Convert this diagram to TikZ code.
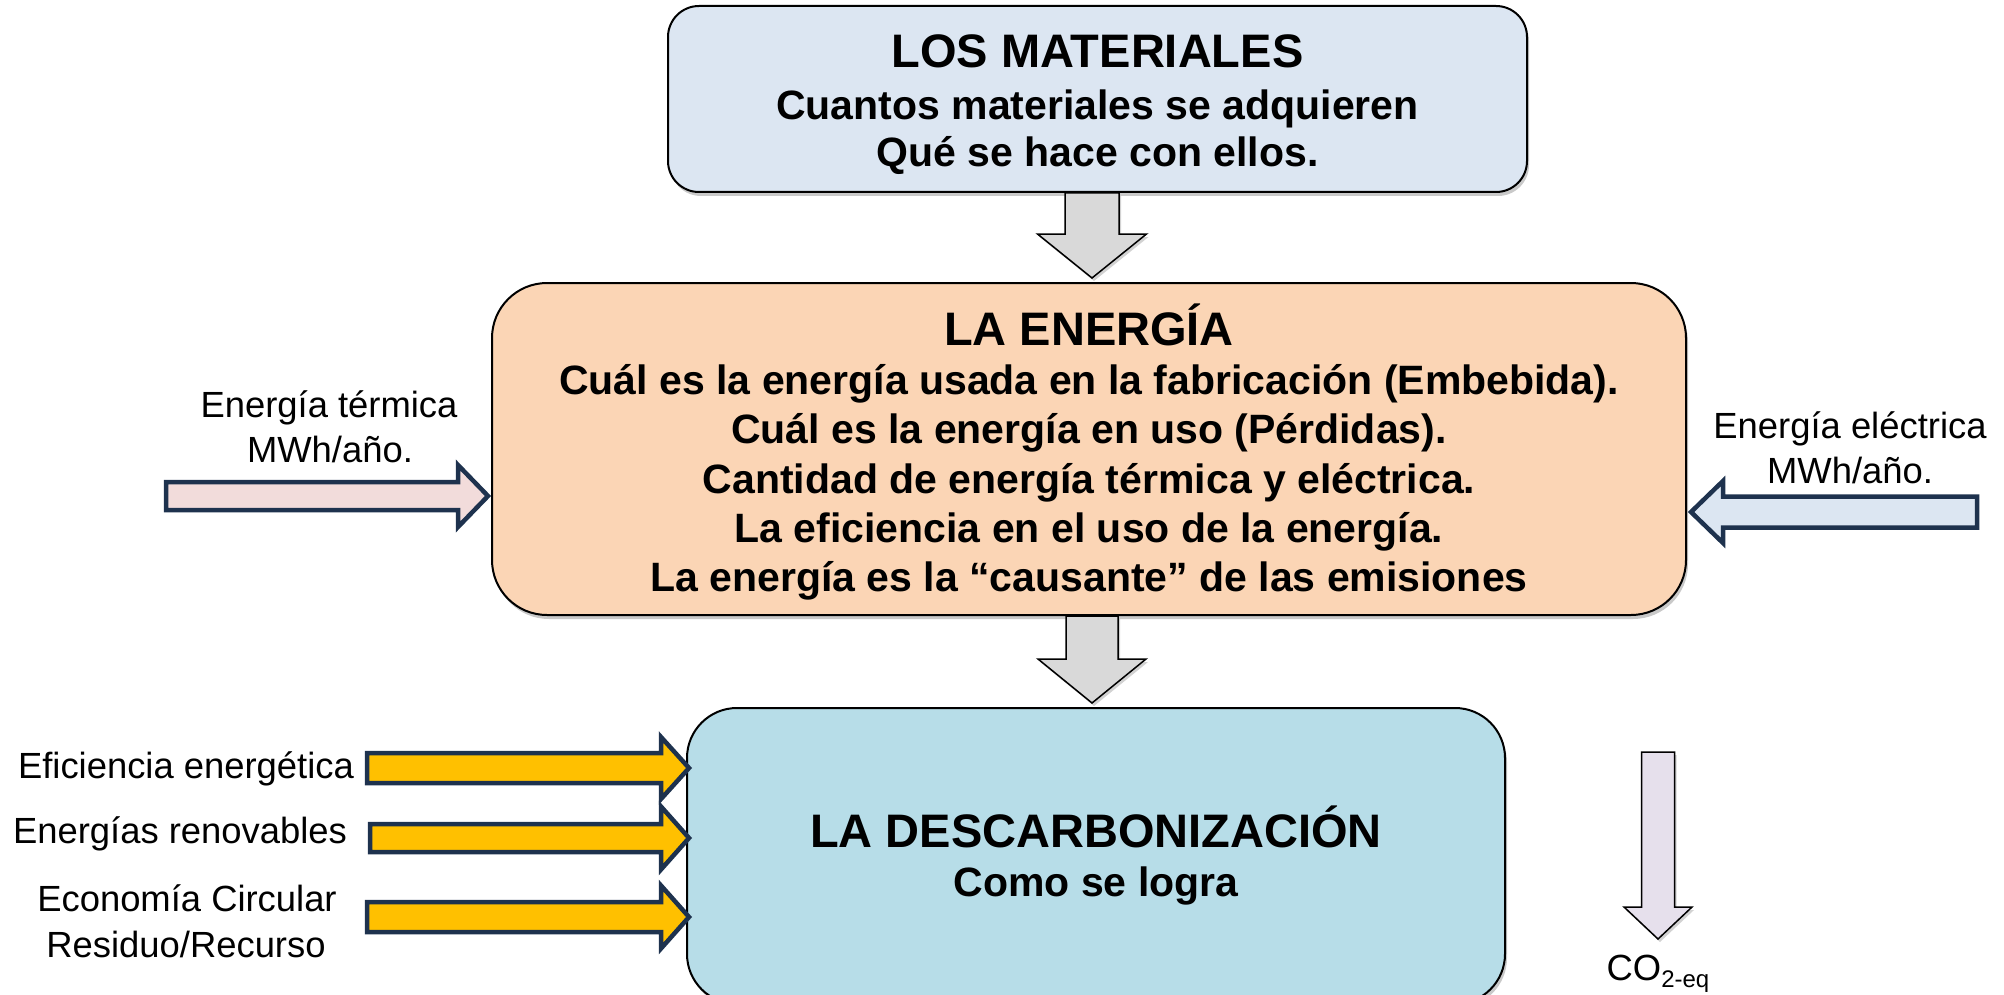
\documentclass[tikz,border=0pt]{standalone}
\usepackage{fontspec}
\setmainfont{Liberation Sans}
\usetikzlibrary{calc,shadows}
\definecolor{topfill}{HTML}{DCE6F2}
\definecolor{midfill}{HTML}{FBD5B5}
\definecolor{botfill}{HTML}{B7DDE8}
\definecolor{grayarrow}{HTML}{D9D9D9}
\definecolor{pinkfill}{HTML}{F2DCDB}
\definecolor{bluefill}{HTML}{DCE6F2}
\definecolor{yellowfill}{HTML}{FFC000}
\definecolor{lavfill}{HTML}{E6E0EC}
\definecolor{navy}{RGB}{30,50,78}
\newcommand\varrowshape[6]{% style, start, tip, half shaft, half head, head length
  \draw[#1] ($(#2)+({-(#4)},0)$) -- ($(#3)+({-(#4)},{-(#6)})$) -- ($(#3)+({-(#5)},{-(#6)})$) -- (#3)
    -- ($(#3)+({#5},{-(#6)})$) -- ($(#3)+({#4},{-(#6)})$) -- ($(#2)+({#4},0)$) -- cycle;}
\newcommand\harrowshape[6]{% style, start, tip, half shaft, half head, head length (signed)
  \draw[#1] ($(#2)+(0,{-(#4)})$) -- ($(#3)+({-(#6)},{-(#4)})$) -- ($(#3)+({-(#6)},{-(#5)})$) -- (#3)
    -- ($(#3)+({-(#6)},{#5})$) -- ($(#3)+({-(#6)},{#4})$) -- ($(#2)+(0,{#4})$) -- cycle;}
\tikzset{
  box/.style={draw=black, line width=2pt, rounded corners=#1, inner sep=0pt,
    drop shadow={shadow xshift=2pt, shadow yshift=-4pt, opacity=0.3, fill=black!70}},
  boxtitle/.style={anchor=base, inner sep=0pt, font=\fontsize{47}{49}\selectfont\bfseries},
  boxline/.style={anchor=base, inner sep=0pt, font=\fontsize{41}{49}\selectfont\bfseries},
  sidelabel/.style={anchor=base, inner sep=0pt, font=\fontsize{36.4}{44}\selectfont},
  grayblock/.style={draw=black, line width=1.5pt, fill=grayarrow,
    drop shadow={shadow xshift=2pt, shadow yshift=-3pt, opacity=0.25, fill=black!70}},
  navyblock/.style={draw=navy, line width=4.5pt, fill=#1},
  lavblock/.style={draw=black, line width=1.5pt, fill=lavfill,
    drop shadow={shadow xshift=2pt, shadow yshift=-3pt, opacity=0.25, fill=black!70}},
}
\begin{document}
\begin{tikzpicture}[x=1pt,y=-1pt]
\useasboundingbox (0,0) rectangle (2004,995);
\clip (0,0) rectangle (2004,995);
% boxes
\node[box=31, fill=topfill, minimum width=859pt, minimum height=186pt] (top) at (1097.5,99) {};
\node[box=55, fill=midfill, minimum width=1194pt, minimum height=332pt] (mid) at (1089,449) {};
\node[box=50, fill=botfill, minimum width=818pt, minimum height=296pt] (bot) at (1096,856) {};
% box texts
\node[boxtitle] (topt1) at (1097.5,68) {LOS MATERIALES};
\node[boxline] (topt2) at (1097.5,120) {Cuantos materiales se adquieren};
\node[boxline] (topt3) at (1097.5,167) {Qué se hace con ellos.};
\node[boxtitle] (midt1) at (1089,345) {LA ENERGÍA};
\node[boxline] (midt2) at (1089,394) {Cuál es la energía usada en la fabricación (Embebida).};
\node[boxline] (midt3) at (1089,443) {Cuál es la energía en uso (Pérdidas).};
\node[boxline] (midt4) at (1089,493) {Cantidad de energía térmica y eléctrica.};
\node[boxline] (midt5) at (1089,542) {La eficiencia en el uso de la energía.};
\node[boxline] (midt6) at (1089,591) {La energía es la “causante” de las emisiones};
\node[boxtitle] (bott1) at (1096,847) {LA DESCARBONIZACIÓN};
\node[boxline] (bott2) at (1096,896) {Como se logra};
% side labels
\node[sidelabel] (term1) at (329,417) {Energía térmica};
\node[sidelabel] (term2) at (330,462) {MWh/año.};
\node[sidelabel] (elec1) at (1850,438) {Energía eléctrica};
\node[sidelabel] (elec2) at (1850,483) {MWh/año.};
\node[sidelabel] (efi) at (186,778) {Eficiencia energética};
\node[sidelabel] (ren) at (180,843) {Energías renovables};
\node[sidelabel] (eco1) at (187,911) {Economía Circular};
\node[sidelabel] (eco2) at (186,957) {Residuo/Recurso};
\node[sidelabel] (co2) at (1658,980) {CO\raisebox{-7pt}{\fontsize{24}{24}\selectfont 2-eq}};
% coordinates
\coordinate (ax) at (1092,0);
\coordinate (g1s) at (top.south -| ax);
\coordinate (g1t) at ($(mid.north -| ax)+(0,-4)$);
\coordinate (g2s) at (mid.south -| ax);
\coordinate (g2t) at ($(bot.north -| ax)+(0,-4)$);
\coordinate (pk) at (166,496);
\coordinate (pkt) at ($(mid.west |- pk)+(-3,0)$);
\coordinate (bl) at (1977,512);
\coordinate (blt) at ($(mid.east |- bl)+(4,0)$);
\coordinate (y1) at (367,768);
\coordinate (y1t) at ($(bot.west |- y1)+(3,0)$);
\coordinate (y2) at (370,838);
\coordinate (y2t) at ($(bot.west |- y2)+(3,0)$);
\coordinate (y3) at (367,917);
\coordinate (y3t) at ($(bot.west |- y3)+(3,0)$);
\coordinate (c1) at (1658,752);
\coordinate (c2) at (1658,939);
% arrows
\varrowshape{grayblock}{g1s}{g1t}{27}{54.5}{44}
\varrowshape{grayblock}{g2s}{g2t}{26}{54}{44}
\harrowshape{navyblock=pinkfill}{pk}{pkt}{14}{31}{30}
\harrowshape{navyblock=bluefill}{bl}{blt}{15.5}{31}{-32}
\harrowshape{navyblock=yellowfill}{y1}{y1t}{15}{31}{28}
\harrowshape{navyblock=yellowfill}{y2}{y2t}{14}{31.5}{28}
\harrowshape{navyblock=yellowfill}{y3}{y3t}{15}{31.5}{28}
\varrowshape{lavblock}{c1}{c2}{16.5}{34}{32}
\end{tikzpicture}
\end{document}
